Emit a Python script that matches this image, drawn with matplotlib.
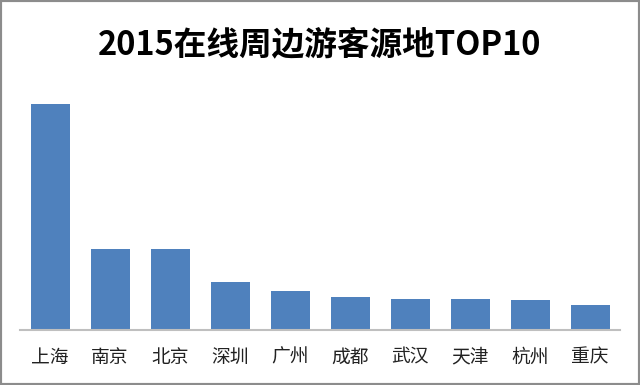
import matplotlib
matplotlib.use('Agg')
import matplotlib.pyplot as plt
from matplotlib.patches import Rectangle

plt.rcParams['font.family'] = ['Noto Sans CJK SC', 'DejaVu Sans']

# 客源地与相对规模（按图中柱高估读）
cities = ['上海', '南京', '北京', '深圳', '广州', '成都', '武汉', '天津', '杭州', '重庆']
values = [226.5, 81.5, 81.5, 48.5, 39.5, 33.5, 31.5, 31.5, 30.5, 25.5]

fig = plt.figure(figsize=(6.4, 3.85), dpi=100)
ax = fig.add_axes([20 / 640, 55 / 385, 600 / 640, 240 / 385])

ax.bar(range(len(cities)), values, width=0.65, color='#4f81bd')
ax.set_xlim(-0.5, len(cities) - 0.5)
ax.set_ylim(0, 240)

for side in ['top', 'right', 'left']:
    ax.spines[side].set_visible(False)
ax.spines['bottom'].set_color('#bfbfbf')
ax.spines['bottom'].set_linewidth(1.5)
ax.set_yticks([])
ax.set_xticks(range(len(cities)))
ax.set_xticklabels(cities, fontsize=13.5, color='#222222')
ax.tick_params(axis='x', length=0, pad=12)

fig.text(0.5, 1 - 45 / 385, '2015在线周边游客源地TOP10', ha='center', va='center',
         fontsize=23.5, fontweight='bold', color='black')

# 外框
fig.patches.append(Rectangle((0, 0), 1, 1, transform=fig.transFigure, fill=False,
                             edgecolor='#8c8c8c', linewidth=3))

fig.savefig('out.png', dpi=100)
